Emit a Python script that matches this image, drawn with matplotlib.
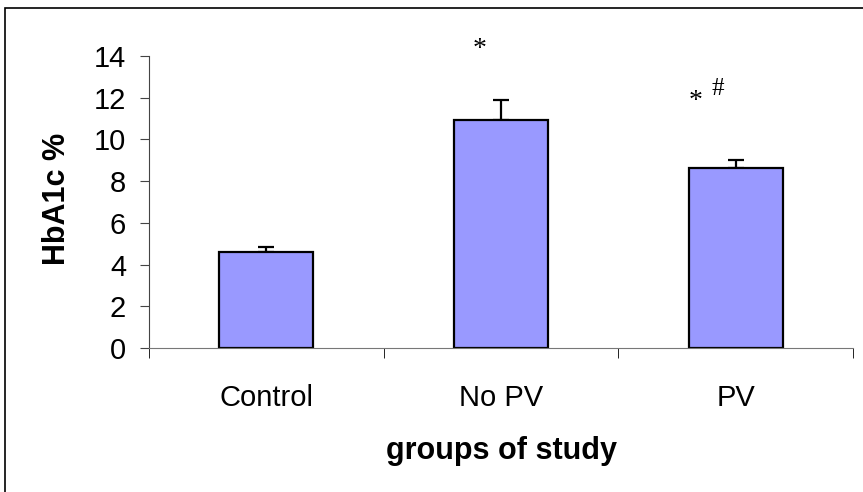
import numpy as np
import matplotlib.pyplot as plt
from matplotlib.patches import Rectangle

plt.rcParams['font.family'] = ['Liberation Sans', 'DejaVu Sans']

groups = ['Control', 'No PV', 'PV']
hba1c = [4.6, 10.95, 8.65]
sem = [0.26, 0.93, 0.35]

fig = plt.figure(figsize=(8.63, 4.92), dpi=100)
ax = fig.add_axes([149 / 863, 1 - 348 / 492, (853 - 149) / 863, (348 - 56) / 492])

# outer frame of the chart area (cut off at right and bottom)
fig.patches.append(Rectangle((5 / 863, -0.1), 1.1, 1 - 8 / 492 + 0.1, transform=fig.transFigure,
                             fill=False, edgecolor='black', linewidth=1.2))

x = np.arange(len(groups))
ax.bar(x, hba1c, width=0.4, color='#9999ff', edgecolor='black', linewidth=1.6, zorder=2)
ax.errorbar(x, hba1c, yerr=[np.zeros(len(sem)), sem], fmt='none', ecolor='black',
            elinewidth=1.6, capsize=5.8, capthick=1.6, zorder=1)

ax.set_xlim(-0.5, 2.5)
ax.set_ylim(0, 14)
ax.set_yticks(range(0, 15, 2))
ax.set_xticks(x)
ax.set_xticklabels(groups, fontsize=21)
ax.tick_params(axis='x', length=0, pad=26)
ax.set_xticks([-0.5, 0.5, 1.5, 2.5], minor=True)
ax.tick_params(axis='x', which='minor', length=7, color='black', direction='out')
ax.tick_params(axis='y', labelsize=21, length=6.5, pad=10, direction='out', color='#444444')

for s in ['top', 'right']:
    ax.spines[s].set_visible(False)
ax.spines['left'].set_color('#444444')
ax.spines['bottom'].set_color('#777777')

ax.set_ylabel('HbA1c %', fontsize=22, fontweight='bold')
ax.yaxis.set_label_coords(-0.11, 0.51)
ax.set_xlabel('groups of study', fontsize=22, fontweight='bold')
ax.xaxis.set_label_coords(0.5, -0.30)

# significance marks
ax.text(0.91, 14.3, '*', fontsize=20, ha='center', va='center', family='Liberation Serif', clip_on=False)
ax.text(1.83, 11.8, '*', fontsize=20, ha='center', va='center', family='Liberation Serif')
ax.text(1.925, 12.42, '#', fontsize=18, ha='center', va='center', family='Liberation Serif')

fig.savefig('out.png', dpi=100)
